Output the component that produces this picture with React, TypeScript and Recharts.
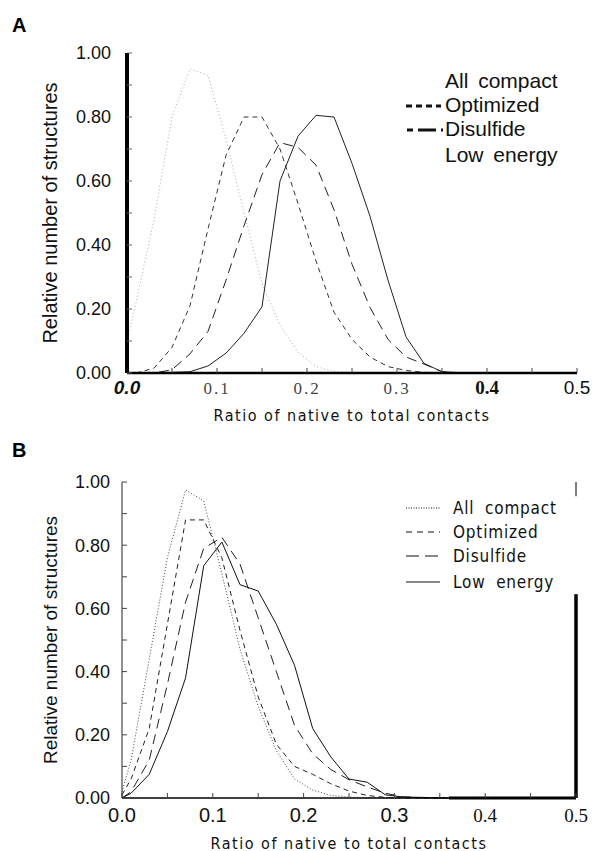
import React from 'react';
import { LineChart, Line, XAxis, YAxis, Legend, ReferenceLine } from 'recharts';

// bin centres (ratio of native to total contacts)
const RATIO = [0, 0.01, 0.03, 0.05, 0.07, 0.09, 0.11, 0.13, 0.15, 0.17, 0.19, 0.21, 0.23, 0.25, 0.27, 0.29, 0.31, 0.33, 0.35, 0.37, 0.39, 0.41];

// panel A
const A_ALL_COMPACT = [0.1, 0.22, 0.48, 0.8, 0.95, 0.93, 0.73, 0.5, 0.28, 0.15, 0.065, 0.02, 0.005, 0.001, 0, 0, 0, 0, 0, 0, 0, 0];
const A_OPTIMIZED = [0, 0, 0.015, 0.08, 0.21, 0.45, 0.68, 0.8, 0.8, 0.7, 0.53, 0.35, 0.19, 0.105, 0.05, 0.02, 0.008, 0.002, 0, 0, 0, 0];
const A_DISULFIDE = [0, 0, 0, 0.01, 0.06, 0.13, 0.29, 0.46, 0.62, 0.72, 0.705, 0.65, 0.51, 0.34, 0.205, 0.105, 0.05, 0.028, 0.004, 0, 0, 0];
const A_LOW_ENERGY = [0, 0, 0, 0.002, 0.004, 0.022, 0.062, 0.124, 0.207, 0.6, 0.74, 0.805, 0.8, 0.655, 0.49, 0.29, 0.113, 0.03, 0.004, 0.001, 0, 0];

// panel B
const B_ALL_COMPACT = [0.02, 0.12, 0.44, 0.76, 0.975, 0.94, 0.71, 0.47, 0.29, 0.15, 0.06, 0.025, 0.008, 0.003, 0.001, 0, 0, 0, 0, 0, 0, 0];
const B_OPTIMIZED = [0.01, 0.06, 0.22, 0.55, 0.88, 0.88, 0.76, 0.53, 0.32, 0.17, 0.1, 0.075, 0.045, 0.022, 0.008, 0.002, 0, 0, 0, 0, 0, 0];
const B_DISULFIDE = [0, 0.02, 0.12, 0.36, 0.62, 0.79, 0.825, 0.74, 0.57, 0.4, 0.23, 0.14, 0.09, 0.058, 0.035, 0.015, 0.004, 0.001, 0, 0, 0, 0];
const B_LOW_ENERGY = [0, 0.015, 0.075, 0.21, 0.38, 0.735, 0.81, 0.675, 0.655, 0.55, 0.42, 0.22, 0.13, 0.06, 0.05, 0.01, 0.003, 0.002, 0, 0, 0, 0];

const X_TICKS = [0, 0.05, 0.1, 0.15, 0.2, 0.25, 0.3, 0.35, 0.4, 0.45, 0.5];
const X_TICK_LABELS = ['0.0', '0.1', '0.2', '0.3', '0.4', '0.5'];
const Y_TICKS = [0, 0.1, 0.2, 0.3, 0.4, 0.5, 0.6, 0.7, 0.8, 0.9, 1];
const Y_TICK_LABELS = ['0.00', '0.20', '0.40', '0.60', '0.80', '1.00'];

const SERIES_KEYS = ['allCompact', 'optimized', 'disulfide', 'lowEnergy'];
const SERIES_NAMES = ['All compact', 'Optimized', 'Disulfide', 'Low energy'];
const X_TITLE = 'Ratio of native to total contacts';
const Y_TITLE = 'Relative number of structures';

const SANS = '"Liberation Sans", Arial, sans-serif';
const SERIF = '"Liberation Serif", "Times New Roman", serif';
const NARROW = '"Liberation Sans Narrow", "DejaVu Sans Condensed", "Liberation Sans", sans-serif';

const W = 592;

const buildRows = (series: number[][]) =>
  RATIO.map((r, i) => {
    const row: any = { ratio: r };
    SERIES_KEYS.forEach((k, j) => {
      row[k] = series[j][i];
    });
    return row;
  });

const makeXTick = (fonts: any[], dy: number) => (props: any) => {
  const { x, y, payload } = props;
  const k = Math.round(payload.value * 20);
  if (k % 2 !== 0) return <g />;
  const idx = k / 2;
  return (
    <text x={x} y={y + dy} textAnchor="middle" fill="#111" style={fonts[idx]}>
      {X_TICK_LABELS[idx]}
    </text>
  );
};

const makeYTick = (gap: number) => (props: any) => {
  const { x, y, payload } = props;
  const k = Math.round(payload.value * 10);
  if (k % 2 !== 0) return <g />;
  return (
    <text x={x - gap} y={y} dy="0.36em" textAnchor="end" fill="#111" style={{ fontFamily: SANS, fontSize: 18 }}>
      {Y_TICK_LABELS[k / 2]}
    </text>
  );
};

const makeXTitle = (dy: number, style: any) => (props: any) => {
  const vb = props.viewBox || {};
  return (
    <text x={vb.x + vb.width / 2} y={vb.y + dy} textAnchor="middle" dominantBaseline="central" fill="#111" style={style}>
      {X_TITLE}
    </text>
  );
};

const makeYTitle = (cx: number, fontSize: number) => (props: any) => {
  const vb = props.viewBox || {};
  const cy = vb.y + vb.height / 2;
  return (
    <text
      x={cx}
      y={cy}
      transform={`rotate(-90 ${cx} ${cy})`}
      textAnchor="middle"
      dominantBaseline="central"
      fill="#111"
      style={{ fontFamily: SANS, fontSize }}
    >
      {Y_TITLE}
    </text>
  );
};

type LegendRow = { y: number; sample?: { dash: string; width: number; x1: number; x2: number } };

const makeLegend = (rows: LegendRow[], textX: number, textStyle: any) => () => (
  <svg width={180} height={110} style={{ overflow: 'visible' }}>
    {rows.map((r, i) => (
      <g key={SERIES_KEYS[i]}>
        {r.sample && (
          <line x1={r.sample.x1} x2={r.sample.x2} y1={r.y - 6} y2={r.y - 6} stroke="#111" strokeWidth={r.sample.width} strokeDasharray={r.sample.dash} />
        )}
        <text x={textX} y={r.y} fill="#111" style={textStyle}>
          {SERIES_NAMES[i]}
        </text>
      </g>
    ))}
  </svg>
);

function PanelA() {
  const data = buildRows([A_ALL_COMPACT, A_OPTIMIZED, A_DISULFIDE, A_LOW_ENERGY]);
  const xFonts = [
    { fontFamily: SANS, fontSize: 19, fontWeight: 700, fontStyle: 'italic' },
    { fontFamily: SERIF, fontSize: 17, letterSpacing: 2, fill: '#444' },
    { fontFamily: SERIF, fontSize: 17, letterSpacing: 2, fill: '#444' },
    { fontFamily: SERIF, fontSize: 17, letterSpacing: 2, fill: '#444' },
    { fontFamily: SERIF, fontSize: 19, fontWeight: 700 },
    { fontFamily: SANS, fontSize: 19 },
  ];
  const legendRows: LegendRow[] = [
    { y: 28 },
    { y: 52, sample: { dash: '6 4', width: 3, x1: 6, x2: 41 } },
    { y: 76, sample: { dash: '6 5 12 0', width: 3, x1: 7, x2: 43 } },
    { y: 102 },
  ];
  return (
    <LineChart width={W} height={430} data={data} margin={{ top: 53, right: 15, bottom: 0, left: 47 }}>
      <XAxis
        xAxisId="top"
        orientation="top"
        type="number"
        domain={[0, 0.5]}
        ticks={X_TICKS}
        height={0}
        tick={false}
        tickLine={false}
        axisLine={{ stroke: '#000', strokeWidth: 3 }}
      />
      <YAxis
        yAxisId="right"
        orientation="right"
        type="number"
        domain={[0, 1]}
        ticks={Y_TICKS}
        width={0}
        tick={false}
        tickSize={-6}
        tickLine={{ stroke: '#222' }}
        axisLine={{ stroke: '#000', strokeWidth: 2.5 }}
      />
      <XAxis
        dataKey="ratio"
        type="number"
        domain={[0, 0.5]}
        ticks={X_TICKS}
        interval={0}
        height={57}
        tickSize={-5}
        tickLine={{ stroke: '#444' }}
        axisLine={{ stroke: '#000', strokeWidth: 2.5 }}
        tick={makeXTick(xFonts, 24)}
        label={{ content: makeXTitle(42, { fontFamily: NARROW, fontSize: 16, letterSpacing: 1.5 }) }}
      />
      <YAxis
        type="number"
        domain={[0, 1]}
        ticks={Y_TICKS}
        interval={0}
        width={80}
        tickSize={-5}
        tickLine={{ stroke: '#666' }}
        axisLine={{ stroke: '#000', strokeWidth: 4 }}
        tick={makeYTick(19)}
        label={{ content: makeYTitle(50, 20) }}
      />
      <Legend
        layout="vertical"
        align="center"
        verticalAlign="middle"
        wrapperStyle={{ left: 400, top: 60, width: 180, height: 110 }}
        content={makeLegend(legendRows, 45, { fontFamily: SANS, fontSize: 21, wordSpacing: 4 })}
      />
      <Line dataKey="allCompact" name={SERIES_NAMES[0]} type="linear" stroke="#aaa" strokeWidth={1} strokeDasharray="1 2.5" dot={false} isAnimationActive={false} />
      <Line dataKey="optimized" name={SERIES_NAMES[1]} type="linear" stroke="#333" strokeWidth={1} strokeDasharray="5 4" dot={false} isAnimationActive={false} />
      <Line dataKey="disulfide" name={SERIES_NAMES[2]} type="linear" stroke="#222" strokeWidth={1} strokeDasharray="10 6" dot={false} isAnimationActive={false} />
      <Line dataKey="lowEnergy" name={SERIES_NAMES[3]} type="linear" stroke="#222" strokeWidth={1} dot={false} isAnimationActive={false} />
    </LineChart>
  );
}

// scan artefacts of the B frame: broken right edge, heavier bottom-right edge
const B_RIGHT_THICK_TOP = 0.645;
const B_RIGHT_THIN_BOTTOM = 0.955;
const B_BOTTOM_THICK_FROM = 0.36;

function PanelB() {
  const data = buildRows([B_ALL_COMPACT, B_OPTIMIZED, B_DISULFIDE, B_LOW_ENERGY]);
  const sansTick = { fontFamily: SANS, fontSize: 20 };
  const serifTick = { fontFamily: SERIF, fontSize: 19 };
  const xFonts = [sansTick, sansTick, sansTick, sansTick, serifTick, serifTick];
  const legendRows: LegendRow[] = [
    { y: 24, sample: { dash: '1 1.5', width: 1, x1: 6, x2: 40 } },
    { y: 48, sample: { dash: '6 5', width: 1.2, x1: 6, x2: 40 } },
    { y: 72, sample: { dash: '13 6', width: 1.2, x1: 6, x2: 40 } },
    { y: 98, sample: { dash: '0', width: 1.2, x1: 6, x2: 40 } },
  ];
  return (
    <LineChart width={W} height={421} data={data} margin={{ top: 52, right: 16, bottom: 0, left: 42 }}>
      <XAxis
        xAxisId="top"
        orientation="top"
        type="number"
        domain={[0, 0.5]}
        ticks={X_TICKS}
        height={0}
        tick={false}
        tickSize={-5}
        tickLine={{ stroke: '#444' }}
        axisLine={{ stroke: '#000', strokeWidth: 3 }}
      />
      <YAxis
        yAxisId="right"
        orientation="right"
        type="number"
        domain={[0, 1]}
        ticks={Y_TICKS}
        width={0}
        tick={false}
        tickSize={-6}
        tickLine={{ stroke: '#222' }}
        axisLine={false}
      />
      <XAxis
        dataKey="ratio"
        type="number"
        domain={[0, 0.5]}
        ticks={X_TICKS}
        interval={0}
        height={53}
        tickSize={-5}
        tickLine={{ stroke: '#444' }}
        axisLine={{ stroke: '#000', strokeWidth: 1.5 }}
        tick={makeXTick(xFonts, 27)}
        label={{ content: makeXTitle(45, { fontFamily: NARROW, fontSize: 16, letterSpacing: 1.5 }) }}
      />
      <YAxis
        type="number"
        domain={[0, 1]}
        ticks={Y_TICKS}
        interval={0}
        width={80}
        tickSize={-5}
        tickLine={{ stroke: '#444' }}
        axisLine={{ stroke: '#222', strokeWidth: 1 }}
        tick={makeYTick(15)}
        label={{ content: makeYTitle(50, 19) }}
      />
      <ReferenceLine segment={[{ x: 0.5, y: 0 }, { x: 0.5, y: B_RIGHT_THICK_TOP }]} stroke="#000" strokeWidth={3.5} />
      <ReferenceLine segment={[{ x: 0.5, y: B_RIGHT_THIN_BOTTOM }, { x: 0.5, y: 1 }]} stroke="#000" strokeWidth={1} />
      <ReferenceLine segment={[{ x: B_BOTTOM_THICK_FROM, y: 0 }, { x: 0.5, y: 0 }]} stroke="#000" strokeWidth={3} />
      <Legend
        layout="vertical"
        align="center"
        verticalAlign="middle"
        wrapperStyle={{ left: 400, top: 60, width: 180, height: 110 }}
        content={makeLegend(legendRows, 53, { fontFamily: NARROW, fontSize: 17, letterSpacing: 0.8, wordSpacing: 5 })}
      />
      <Line dataKey="allCompact" name={SERIES_NAMES[0]} type="linear" stroke="#444" strokeWidth={1} strokeDasharray="1 2" dot={false} isAnimationActive={false} />
      <Line dataKey="optimized" name={SERIES_NAMES[1]} type="linear" stroke="#222" strokeWidth={1} strokeDasharray="5 4" dot={false} isAnimationActive={false} />
      <Line dataKey="disulfide" name={SERIES_NAMES[2]} type="linear" stroke="#222" strokeWidth={1} strokeDasharray="10 6" dot={false} isAnimationActive={false} />
      <Line dataKey="lowEnergy" name={SERIES_NAMES[3]} type="linear" stroke="#111" strokeWidth={1} dot={false} isAnimationActive={false} />
    </LineChart>
  );
}

export default function App() {
  const letter = { position: 'absolute' as const, left: 12, fontFamily: SANS, fontWeight: 700, fontSize: 20, lineHeight: '20px', color: '#000' };
  return (
    <div style={{ position: 'absolute', left: 0, top: 0, width: W, height: 851, background: '#fff', overflow: 'hidden' }}>
      <div style={{ ...letter, top: 15 }}>A</div>
      <div style={{ ...letter, top: 440 }}>B</div>
      <div style={{ position: 'absolute', left: 0, top: 0 }}>
        <PanelA />
      </div>
      <div style={{ position: 'absolute', left: 0, top: 430 }}>
        <PanelB />
      </div>
    </div>
  );
}
